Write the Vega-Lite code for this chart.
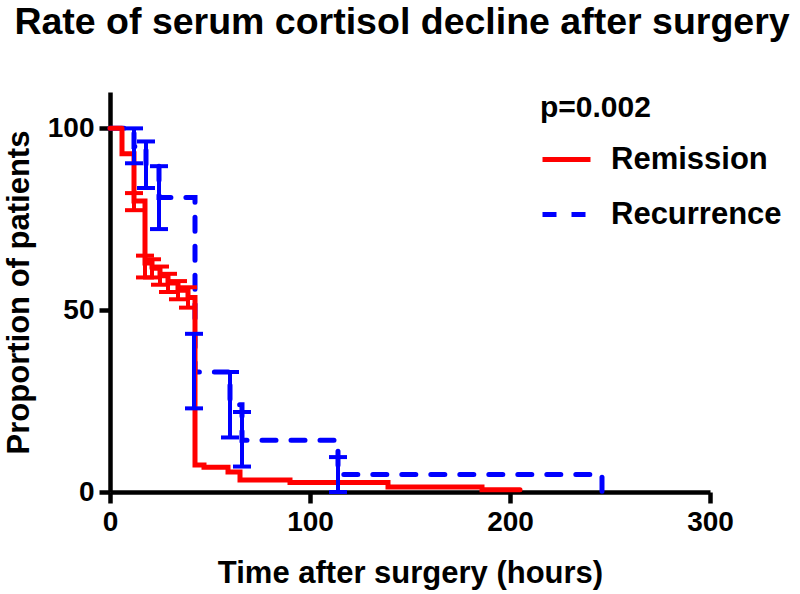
{
  "$schema": "https://vega.github.io/schema/vega-lite/v6.json",
  "width": 600,
  "height": 400,
  "autosize": {"type": "none"},
  "padding": {"left": 110, "top": 92, "right": 90, "bottom": 102},
  "background": "white",
  "title": {
    "text": "Rate of serum cortisol decline after surgery",
    "font": "Liberation Sans",
    "fontSize": 37.5,
    "fontWeight": "bold",
    "color": "black",
    "anchor": "middle",
    "frame": "group",
    "dx": -8,
    "offset": 51
  },
  "config": {
    "view": {"stroke": null},
    "font": "Liberation Sans",
    "axis": {
      "grid": false,
      "domainColor": "black",
      "domainWidth": 4.5,
      "tickColor": "black",
      "tickWidth": 4.5,
      "tickSize": 11,
      "labelFlush": false,
      "labelFont": "Liberation Sans",
      "labelFontSize": 28,
      "labelFontWeight": "bold",
      "labelColor": "black",
      "titleFont": "Liberation Sans",
      "titleFontSize": 31,
      "titleFontWeight": "bold",
      "titleColor": "black"
    }
  },
  "datasets": {
    "steps": [
      {"group": "Recurrence", "t": 0, "s": 100},
      {"group": "Recurrence", "t": 12, "s": 95},
      {"group": "Recurrence", "t": 18, "s": 90},
      {"group": "Recurrence", "t": 24.5, "s": 81},
      {"group": "Recurrence", "t": 42.5, "s": 33},
      {"group": "Recurrence", "t": 60, "s": 24},
      {"group": "Recurrence", "t": 66, "s": 14.2},
      {"group": "Recurrence", "t": 114, "s": 4.8},
      {"group": "Recurrence", "t": 246, "s": 0},
      {"group": "Remission", "t": 0, "s": 100},
      {"group": "Remission", "t": 6, "s": 93},
      {"group": "Remission", "t": 12, "s": 80},
      {"group": "Remission", "t": 17.5, "s": 63},
      {"group": "Remission", "t": 21, "s": 61.5},
      {"group": "Remission", "t": 25, "s": 59.5},
      {"group": "Remission", "t": 29, "s": 57.5},
      {"group": "Remission", "t": 34, "s": 55.5},
      {"group": "Remission", "t": 39, "s": 53.5},
      {"group": "Remission", "t": 42.5, "s": 7.4},
      {"group": "Remission", "t": 47, "s": 6.8},
      {"group": "Remission", "t": 59, "s": 5.5},
      {"group": "Remission", "t": 65, "s": 3.3},
      {"group": "Remission", "t": 90, "s": 2.6},
      {"group": "Remission", "t": 139, "s": 1.4},
      {"group": "Remission", "t": 186, "s": 0.6},
      {"group": "Remission", "t": 205, "s": 0.6}
    ],
    "bars": [
      {"group": "Recurrence", "t": 12, "lo": 90.4, "hi": 100},
      {"group": "Recurrence", "t": 18, "lo": 83.6, "hi": 96.4},
      {"group": "Recurrence", "t": 24.5, "lo": 72.3, "hi": 89.6},
      {"group": "Recurrence", "t": 42, "lo": 23, "hi": 43.5},
      {"group": "Recurrence", "t": 60, "lo": 15, "hi": 33},
      {"group": "Recurrence", "t": 66, "lo": 7, "hi": 22},
      {"group": "Recurrence", "t": 114, "lo": 0, "hi": 9.6},
      {"group": "Remission", "t": 12, "lo": 77.5, "hi": 82.2},
      {"group": "Remission", "t": 17.5, "lo": 59, "hi": 65},
      {"group": "Remission", "t": 21, "lo": 59, "hi": 64},
      {"group": "Remission", "t": 25, "lo": 57, "hi": 62},
      {"group": "Remission", "t": 29, "lo": 55, "hi": 60},
      {"group": "Remission", "t": 34, "lo": 53, "hi": 58},
      {"group": "Remission", "t": 39, "lo": 50.7, "hi": 56.3}
    ]
  },
  "layer": [
    {
      "data": {"name": "steps"},
      "mark": {"type": "line", "interpolate": "step-after", "strokeWidth": 5, "strokeCap": "round", "opacity": 1},
      "encoding": {
        "x": {
          "field": "t", "type": "quantitative",
          "scale": {"domain": [0, 300], "nice": false},
          "axis": {"values": [0, 100, 200, 300], "title": "Time after surgery (hours)", "labelPadding": 5, "titlePadding": 22}
        },
        "y": {
          "field": "s", "type": "quantitative",
          "scale": {"domain": [0, 110], "nice": false},
          "axis": {"values": [0, 50, 100], "title": "Proportion of patients", "labelPadding": 5, "titlePadding": 12}
        },
        "color": {
          "field": "group", "type": "nominal",
          "scale": {"domain": ["Remission", "Recurrence"], "range": ["#FF0000", "#0000FF"]},
          "legend": {
            "orient": "none", "legendX": 430, "legendY": 1,
            "title": "p=0.002",
            "titleFont": "Liberation Sans", "titleFontSize": 30, "titleFontWeight": "bold", "titleColor": "black", "titlePadding": 10,
            "labelFont": "Liberation Sans", "labelFontSize": 31, "labelFontWeight": "bold", "labelColor": "black", "labelLimit": 400,
            "labelOffset": 18, "symbolType": "stroke", "symbolSize": 2304, "symbolStrokeWidth": 5, "symbolOpacity": 1, "rowPadding": 13
          }
        },
        "strokeDash": {
          "field": "group", "type": "nominal",
          "scale": {"domain": ["Remission", "Recurrence"], "range": [[1, 0], [14, 15]]},
          "legend": {
            "orient": "none", "legendX": 430, "legendY": 1,
            "title": "p=0.002",
            "titleFont": "Liberation Sans", "titleFontSize": 30, "titleFontWeight": "bold", "titleColor": "black", "titlePadding": 10,
            "labelFont": "Liberation Sans", "labelFontSize": 31, "labelFontWeight": "bold", "labelColor": "black", "labelLimit": 400,
            "labelOffset": 18, "symbolType": "stroke", "symbolSize": 2304, "symbolStrokeWidth": 5, "symbolOpacity": 1, "rowPadding": 13
          }
        }
      }
    },
    {
      "data": {"name": "bars"},
      "mark": {"type": "rule", "strokeWidth": 4, "opacity": 1},
      "encoding": {
        "x": {"field": "t", "type": "quantitative"},
        "y": {"field": "lo", "type": "quantitative"},
        "y2": {"field": "hi"},
        "color": {"field": "group", "type": "nominal"}
      }
    },
    {
      "data": {"name": "bars"},
      "mark": {"type": "tick", "orient": "horizontal", "size": 18, "thickness": 4, "opacity": 1},
      "encoding": {
        "x": {"field": "t", "type": "quantitative"},
        "y": {"field": "lo", "type": "quantitative"},
        "color": {"field": "group", "type": "nominal"}
      }
    },
    {
      "data": {"name": "bars"},
      "mark": {"type": "tick", "orient": "horizontal", "size": 18, "thickness": 4, "opacity": 1},
      "encoding": {
        "x": {"field": "t", "type": "quantitative"},
        "y": {"field": "hi", "type": "quantitative"},
        "color": {"field": "group", "type": "nominal"}
      }
    }
  ]
}
